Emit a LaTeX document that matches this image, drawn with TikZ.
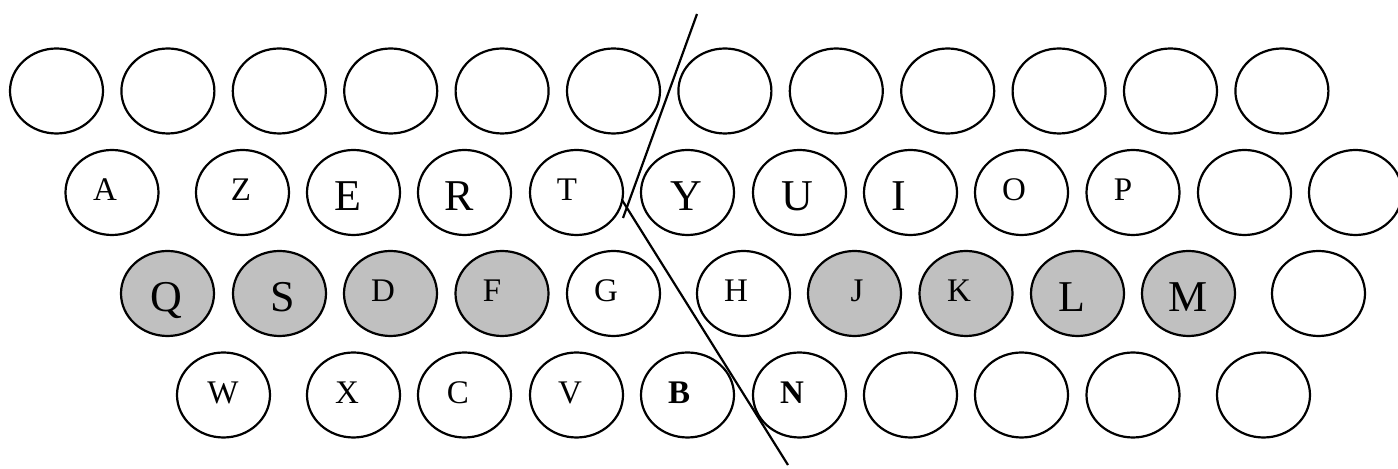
\documentclass[tikz,border=0pt]{standalone}
\usepackage{fontspec}
\setmainfont{Liberation Serif}
\usetikzlibrary{shapes.geometric}
\definecolor{keygray}{RGB}{192,192,192}

\begin{document}
\begin{tikzpicture}[x=0.5pt,y=-0.5pt,
  key/.style={draw,ellipse,line width=1.1pt,minimum width=46.5pt,
    minimum height=42.5pt,inner sep=0pt},
  home/.style={key,fill=keygray},
  bigcap/.style={anchor=base,inner sep=0pt,yshift=-9.25pt,
    font=\fontsize{22}{22}\selectfont},
  smallcap/.style={anchor=base,inner sep=0pt,yshift=-4.25pt,
    font=\fontsize{16.5}{16.5}\selectfont},
  boldcap/.style={smallcap,font=\fontsize{16.5}{16.5}\selectfont\bfseries}]
  \useasboundingbox (0,0) rectangle (1398,469);

  % top row: twelve empty keys
  \foreach \i in {0,...,11}
    \node[key] (top\i) at ({56.5+111.4*\i},91) {};

  % second row
  \foreach \x/\t/\s/\dx in {112/A/smallcap/-7, 242.5/Z/smallcap/-1.5,
      353.5/E/bigcap/-5.5, 464.5/R/bigcap/-5, 576.5/T/smallcap/-9.5,
      687.5/Y/bigcap/-1.5, 799.5/U/bigcap/-2.5, 910.5/I/bigcap/-11.5,
      1021.5/O/smallcap/-7.5, 1133/P/smallcap/-10} {
    \node[key] (k\t) at (\x,192.5) {};
    \node[\s] (t\t) at ([shift={(\dx,0)}]k\t.center) {\t};
  }
  \node[key] (rowtwo1) at (1244.5,192.5) {};
  \node[key] (rowtwo2) at (1355.5,192.5) {};

  % home row, grey keys under the fingers
  \foreach \x/\t/\k/\s/\dx in {167.5/Q/home/bigcap/-1.5,
      279.5/S/home/bigcap/3.5, 390.5/D/home/smallcap/-7.5,
      502/F/home/smallcap/-10, 613.5/G/key/smallcap/-7.5,
      743.5/H/key/smallcap/-7.5, 854.5/J/home/smallcap/2.5,
      966/K/home/smallcap/-7, 1077.5/L/home/bigcap/-5.5,
      1188.5/M/home/bigcap/-0.5} {
    \node[\k] (k\t) at (\x,293.5) {};
    \node[\s] (t\t) at ([shift={(\dx,0)}]k\t.center) {\t};
  }
  \node[key] (rowthree1) at (1318.5,293.5) {};

  % bottom row
  \foreach \x/\t/\s/\dx in {223.5/W/smallcap/-0.5, 353.5/X/smallcap/-6.5,
      464.5/C/smallcap/-6.5, 576.5/V/smallcap/-6.5,
      687.5/B/boldcap/-8.5, 799.5/N/boldcap/-7.5} {
    \node[key] (k\t) at (\x,395) {};
    \node[\s] (t\t) at ([shift={(\dx,0)}]k\t.center) {\t};
  }
  \foreach \x [count=\n] in {910.5,1021.5,1133,1263.5}
    \node[key] (rowfour\n) at (\x,395) {};

  % the split between the two hands
  \coordinate (cuttop) at (697,14);
  \coordinate (cutend) at (623,218);
  \coordinate (cutknee) at (622,200);
  \coordinate (cutbot) at (788,465);
  \draw[line width=1.1pt] (cuttop) -- (cutend);
  \draw[line width=1.1pt] (cutknee) -- (cutbot);
\end{tikzpicture}
\end{document}
